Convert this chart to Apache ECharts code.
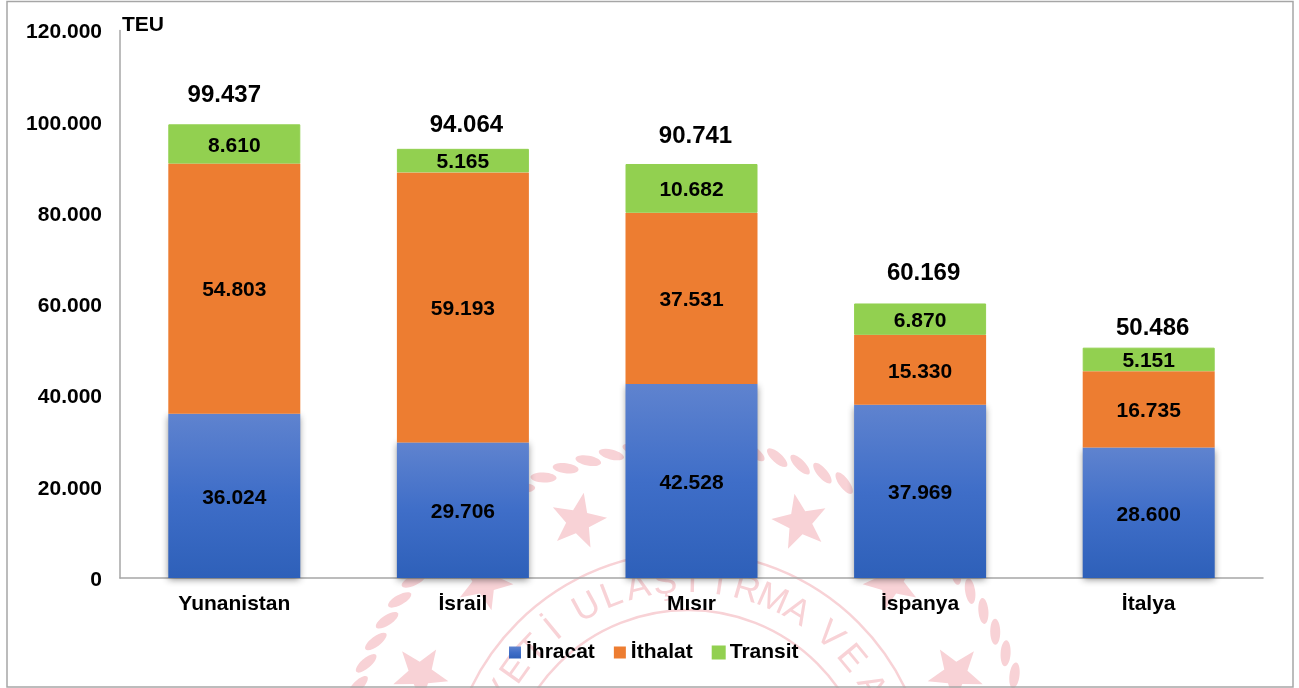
<!DOCTYPE html>
<html>
<head>
<meta charset="utf-8">
<style>html,body{margin:0;padding:0;background:#fff}#c{width:1299px;height:688px}</style>
<script src="https://cdn.jsdelivr.net/npm/echarts@6/dist/echarts.min.js"></script>
</head>
<body>
<div id="c"></div>
<script>
const categories = ['Yunanistan', 'İsrail', 'Mısır', 'İspanya', 'İtalya'];
const ihracat = [36024, 29706, 42528, 37969, 28600];
const ithalat = [54803, 59193, 37531, 15330, 16735];
const transit = [8610, 5165, 10682, 6870, 5151];
const toplam = [99437, 94064, 90741, 60169, 50486];
const toplamLabelGap = [16, 11, 15, 18, 7];
const toplamLabelShift = [-10, 3.5, 4, 3.5, 4];

const FONT = '"Liberation Sans", Arial, sans-serif';
const fmt = v => String(v).replace(/\B(?=(\d{3})+$)/g, '.');

/* Decorative seal watermark behind the plot */
const PINK = '#f8d2d6';
const CX = 688, CY = 793;
function polar(r, deg) {
  const a = deg * Math.PI / 180;
  return [CX + r * Math.sin(a), CY - r * Math.cos(a)];
}
function starPoints(x, y, R, rot) {
  const pts = [];
  for (let i = 0; i < 10; i++) {
    const r = i % 2 ? R * 0.42 : R;
    const a = (rot + i * 36) * Math.PI / 180;
    pts.push([x + r * Math.sin(a), y - r * Math.cos(a)]);
  }
  return pts;
}
const wm = [];
[183, 241].forEach(r => wm.push({
  type: 'circle', z: 0, silent: true,
  shape: { cx: CX, cy: CY, r },
  style: { fill: 'none', stroke: PINK, lineWidth: 2.5 }
}));
for (let d = -72; d <= 72; d += 3.95) {
  const [x, y] = polar(347, d);
  wm.push({
    type: 'ellipse', z: 0, silent: true, x, y,
    rotation: -(d + 27) * Math.PI / 180,
    shape: { cx: 0, cy: 0, rx: 13, ry: 5 },
    style: { fill: PINK }
  });
}
[-66, -44, -22, 22.5, 44, 66].forEach(d => {
  const [x, y] = polar(293, d);
  wm.push({
    type: 'polygon', z: 0, silent: true,
    shape: { points: starPoints(x, y, 29, -d / 2) },
    style: { fill: PINK }
  });
});
['Y', 'E', 'T', 'İ'].forEach((ch, i) => addLetter(ch, -62 + i * 7.5));
'ULAŞTIRMA'.split('').forEach((ch, i) => addLetter(ch, -28.6 + i * 7.45));
addLetter('V', 42);
addLetter('E', 50.5);
addLetter('A', 60);
function addLetter(ch, d) {
  const [x, y] = polar(211, d);
  wm.push({
    type: 'text', z: 0, silent: true, x, y,
    rotation: -d * Math.PI / 180,
    style: { text: ch, fill: PINK, font: '36px "Liberation Sans", Arial, sans-serif', align: 'center', verticalAlign: 'middle' }
  });
}
/* Outer frame */
wm.push({
  type: 'rect', z: 1, silent: true,
  shape: { x: 7, y: 1.5, width: 1286, height: 685.5 },
  style: { fill: 'none', stroke: '#a6a6a6', lineWidth: 1.5 }
});

const blueGradient = {
  type: 'linear', x: 0, y: 0, x2: 0, y2: 1,
  colorStops: [
    { offset: 0, color: '#5f83cf' },
    { offset: 0.5, color: '#3f6ec8' },
    { offset: 1, color: '#2e60b9' }
  ]
};
const innerLabel = {
  show: true, position: 'inside', color: '#000',
  fontFamily: FONT, fontWeight: 'bold', fontSize: 21, offset: [0, 2],
  formatter: p => fmt(p.value)
};
const barCommon = { type: 'bar', stack: 'toplam', barWidth: 132, label: innerLabel, z: 3 };

const option = {
  animation: false,
  backgroundColor: '#fff',
  graphic: { elements: wm },
  textStyle: { fontFamily: FONT },
  legend: {
    data: ['İhracat', 'İthalat', 'Transit'],
    left: 504, top: 637,
    icon: 'rect', itemWidth: 12, itemHeight: 12, itemGap: 19,
    itemStyle: { shadowBlur: 0, shadowOffsetY: 0, shadowColor: 'transparent' },
    textStyle: { color: '#000', fontFamily: FONT, fontWeight: 'bold', fontSize: 21 }
  },
  grid: { left: 120, right: 36, top: 30.5, bottom: 110 },
  xAxis: {
    type: 'category', data: categories,
    axisLine: { lineStyle: { color: '#a6a6a6', width: 1.5 } },
    axisTick: { show: false },
    axisLabel: { color: '#000', fontFamily: FONT, fontWeight: 'bold', fontSize: 21, margin: 16 }
  },
  yAxis: {
    type: 'value', min: 0, max: 120000, interval: 20000,
    name: 'TEU', nameLocation: 'end', nameGap: 5,
    nameTextStyle: { color: '#000', fontFamily: FONT, fontWeight: 'bold', fontSize: 21, align: 'left', verticalAlign: 'middle', padding: [0, 0, 0, 2] },
    axisLine: { show: true, lineStyle: { color: '#a6a6a6', width: 1.5 } },
    axisTick: { show: false },
    splitLine: { show: false },
    axisLabel: { color: '#000', fontFamily: FONT, fontWeight: 'bold', fontSize: 21, margin: 18, verticalAlign: 'top', lineHeight: 4, formatter: fmt }
  },
  series: [
    Object.assign({}, barCommon, {
      name: 'İhracat', data: ihracat,
      itemStyle: { color: blueGradient, shadowBlur: 7, shadowColor: 'rgba(0,0,0,0.45)', shadowOffsetY: 2 }
    }),
    Object.assign({}, barCommon, {
      name: 'İthalat', data: ithalat,
      itemStyle: { color: '#ed7d31' }
    }),
    Object.assign({}, barCommon, {
      name: 'Transit', data: transit,
      itemStyle: { color: '#92d050', borderColor: '#92d050', borderWidth: 1 }
    }),
    {
      name: 'Toplam', type: 'line', z: 4,
      data: toplam.map((v, i) => ({
        value: v,
        label: { distance: toplamLabelGap[i], offset: [toplamLabelShift[i], 0] }
      })),
      symbol: 'circle', symbolSize: 1,
      itemStyle: { color: 'rgba(0,0,0,0)' },
      lineStyle: { opacity: 0 },
      label: {
        show: true, position: 'top', color: '#000',
        fontFamily: FONT, fontWeight: 'bold', fontSize: 24,
        formatter: p => fmt(p.value)
      }
    }
  ]
};
echarts.init(document.getElementById('c')).setOption(option);
</script>
</body>
</html>
